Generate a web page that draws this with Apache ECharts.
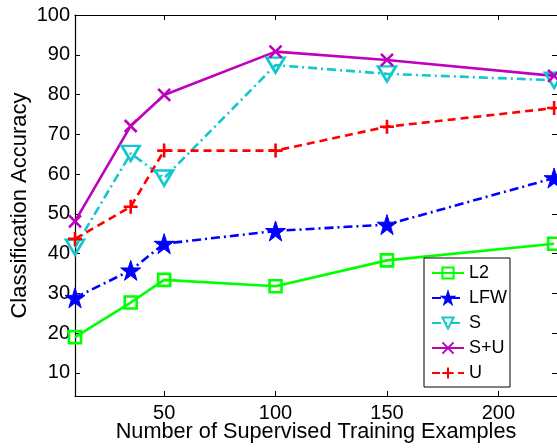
<!DOCTYPE html>
<html><head><meta charset="utf-8">
<script src="https://cdn.jsdelivr.net/npm/echarts@6/dist/echarts.min.js"></script>
<style>html,body{margin:0;padding:0;background:#fff}#c{width:557px;height:448px}</style>
</head><body><div id="c"></div>
<script>
const xValues = [10, 35, 50, 100, 150, 225];
const L2  = [19.0, 27.7, 33.4, 31.8, 38.3, 42.5];
const LFW = [28.9, 35.8, 42.5, 45.7, 47.3, 59.0];
const S   = [41.6, 65.2, 59.0, 87.4, 85.2, 83.6];
const SU  = [48.1, 72.1, 79.9, 90.8, 88.7, 84.7];
const U   = [43.7, 51.8, 65.9, 65.9, 71.9, 76.6];
const xTicks = [50, 100, 150, 200];
const yTicks = [10, 20, 30, 40, 50, 60, 70, 80, 90, 100];

const pts = a => xValues.map((x, i) => [x, a[i]]);
const FONT = 'Liberation Sans';
const star = 'path://M50,0 L61.2,34.5 L97.6,34.5 L68.2,55.9 L79.4,90.5 L50,69.1 L20.6,90.5 L31.8,55.9 L2.4,34.5 L38.8,34.5 Z';
const cross = 'path://M0,0 L10,10 M10,0 L0,10';
const plus = 'path://M5,0 L5,10 M0,5 L10,5';

function ser(name, data, color, dash, symbol, size, filled, rotate) {
  return {
    name, type: 'line', data: pts(data), symbol, symbolSize: size, symbolRotate: rotate || 0,
    showAllSymbol: true, clip: false,
    lineStyle: { color, width: 2.6, type: dash },
    itemStyle: filled ? { color, borderColor: color, borderWidth: 1 }
                      : { color: 'rgba(0,0,0,0)', borderColor: color, borderWidth: 2.6 },
    emphasis: { disabled: true }, animation: false
  };
}

const chart = echarts.init(document.getElementById('c'), null, { renderer: 'canvas' });
chart.setOption({
  animation: false,
  backgroundColor: '#fff',
  grid: { left: 75, right: 0, top: 15, bottom: 52, containLabel: false, outerBoundsMode: 'none' },
  legend: {
    orient: 'vertical', left: 424, top: 258,
    backgroundColor: '#fff', borderColor: '#000', borderWidth: 1, borderRadius: 0,
    padding: [6, 3, 5, 7], itemWidth: 32, itemHeight: 14, itemGap: 7,
    textStyle: { fontFamily: FONT, fontSize: 18, color: '#000' },
    data: ['L2', 'LFW', 'S', 'S+U', 'U']
  },
  xAxis: [{
    type: 'value', min: 10, max: 226.3, position: 'bottom',
    name: 'Number of Supervised Training Examples', nameLocation: 'middle', nameGap: 25,
    nameMoveOverlap: false,
    nameTextStyle: { fontFamily: FONT, fontSize: 21.7, color: '#000' },
    axisLine: { show: true, lineStyle: { color: '#000', width: 1.2 } },
    axisTick: { show: true, inside: true, length: 5, customValues: xTicks, lineStyle: { color: '#000' } },
    axisLabel: { customValues: xTicks, fontFamily: FONT, fontSize: 20, color: '#000', margin: 7 },
    splitLine: { show: false }
  }, {
    type: 'value', min: 10, max: 226.3, position: 'top',
    axisLine: { show: true, onZero: false, lineStyle: { color: '#000', width: 1.2 } },
    axisTick: { show: true, inside: true, length: 5, customValues: xTicks, lineStyle: { color: '#000' } },
    axisLabel: { show: false }, splitLine: { show: false }
  }],
  yAxis: [{
    type: 'value', min: 4.2, max: 100, position: 'left',
    name: 'Classification Accuracy', nameLocation: 'middle', nameGap: 44,
    nameMoveOverlap: false,
    nameTextStyle: { fontFamily: FONT, fontSize: 22, color: '#000' },
    axisLine: { show: true, onZero: false, lineStyle: { color: '#000', width: 1.2 } },
    axisTick: { show: true, inside: true, length: 5, customValues: yTicks, lineStyle: { color: '#000' } },
    axisLabel: { customValues: yTicks, fontFamily: FONT, fontSize: 20, color: '#000', margin: 5 },
    splitLine: { show: false }
  }, {
    type: 'value', min: 4.2, max: 100, position: 'right',
    axisLine: { show: false },
    axisTick: { show: true, inside: true, length: 5, customValues: yTicks, lineStyle: { color: '#000' } },
    axisLabel: { show: false }, splitLine: { show: false }
  }],
  series: [
    ser('L2', L2, '#00ff00', 'solid', 'rect', 12, false),
    ser('LFW', LFW, '#0000ff', [9, 4, 2, 4], star, 20, true),
    ser('S', S, '#12c8cc', [9, 4, 2, 4], 'triangle', [18, 15], false, 180),
    ser('S+U', SU, '#bf00bf', 'solid', cross, 12, false),
    ser('U', U, '#ff0000', [8, 5], plus, 14, false)
  ]
});
</script></body></html>
